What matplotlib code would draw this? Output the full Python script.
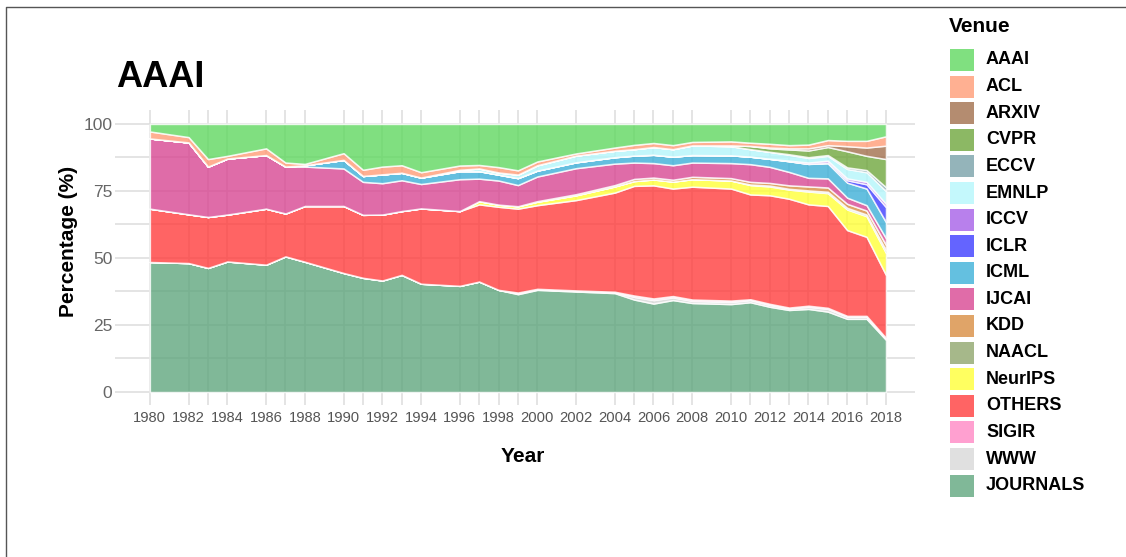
import matplotlib
matplotlib.use('Agg')
import matplotlib.pyplot as plt
from matplotlib.patches import Rectangle
from matplotlib.lines import Line2D
from matplotlib.colors import to_rgb

plt.rcParams['font.family'] = ['Liberation Sans', 'DejaVu Sans']

years = [1980, 1982, 1983, 1984, 1986, 1987, 1988, 1990, 1991, 1992, 1993, 1994, 1996, 1997, 1998, 1999,
         2000, 2002, 2004, 2005, 2006, 2007, 2008, 2010, 2011, 2012, 2013, 2014, 2015, 2016, 2017, 2018]

# percentage of citations per venue, one value per year above
journals = [48.5, 48.1, 46.3, 48.7, 47.5, 50.6, 48.6, 44.4, 42.6, 41.6, 43.7, 40.4, 39.6, 41.2, 38.1, 36.5,
            38.1, 37.5, 36.9, 34.5, 33.0, 34.3, 33.2, 32.8, 33.5, 31.8, 30.6, 31.0, 30.0, 27.3, 27.3, 19.5]
www = [0] * 15 + [0.3, 0.2, 0.2, 0.3, 1.0, 1.3, 1.0, 0.8, 0.8, 0.8, 0.7, 0.6, 0.8, 1.0, 0.8, 0.8, 0.5]
sigir = [0] * 15 + [0.3, 0.2, 0.2, 0.2, 0.5, 0.6, 0.5, 0.5, 0.5, 0.3, 0.4, 0.3, 0.4, 0.4, 0.3, 0.3, 0.2]
others = [19.9, 18.2, 19.0, 17.5, 20.9, 16.0, 20.8, 25.0, 23.5, 24.6, 23.8, 28.1, 27.9, 28.8, 31.0, 31.3,
          31.2, 33.7, 37.0, 40.9, 42.2, 40.1, 42.1, 41.8, 39.1, 40.5, 40.6, 37.8, 38.0, 32.0, 29.5, 23.5]
neurips = [0] * 13 + [1.2, 0.8, 0.9, 1.3, 1.8, 2.3, 1.8, 2.2, 2.6, 2.8, 3.0, 3.5, 3.3, 3.4, 4.8, 4.8, 7.7, 7.7, 8.2]
naacl = [0] * 24 + [0.2, 0.3, 0.3, 0.4, 0.5, 0.6, 0.6, 1.0]
kdd = [0] * 16 + [0.2, 0.4, 0.5, 0.8, 0.7, 0.7, 0.9, 0.9, 1.0, 1.0, 1.3, 1.5, 1.6, 1.5, 1.5, 2.0]
ijcai = [26.2, 26.8, 18.8, 20.9, 20.0, 17.5, 14.7, 14.0, 12.3, 11.7, 11.5, 9.1, 11.9, 8.4, 9.0, 7.9,
         9.2, 9.7, 8.0, 6.1, 5.4, 5.4, 5.3, 5.6, 6.6, 6.0, 5.0, 3.2, 3.4, 2.3, 2.0, 2.5]
icml = [0] * 6 + [0.5, 3.2, 2.2, 3.3, 2.8, 2.4, 3.0, 2.8, 2.2, 2.6, 2.2, 2.2, 2.4, 2.6, 3.1, 3.2, 2.8, 2.9,
                  2.8, 3.0, 4.0, 5.2, 5.6, 5.6, 6.2, 6.0]
iclr = [0] * 28 + [0.3, 0.9, 1.6, 5.6]
iccv = [0] * 26 + [0.2, 0.5, 0.7, 0.7, 0.9, 1.2]
emnlp = [0] * 12 + [0.5, 1.0, 0.8, 1.3, 2.0, 2.5, 2.4, 2.4, 2.9, 2.8, 3.6, 3.4, 2.8, 2.6, 2.2, 1.7, 1.8, 3.5, 3.6, 4.8]
eccv = [0] * 26 + [0.2, 0.3, 0.3, 0.6, 0.8, 1.4]
cvpr = [0] * 23 + [0.3, 1.2, 1.3, 1.8, 2.5, 3.0, 6.0, 5.3, 10.5]
arxiv = [0] * 25 + [0.3, 0.4, 0.8, 0.7, 1.9, 3.1, 5.0]
acl = [2.6, 2.0, 2.8, 1.0, 2.5, 1.5, 0.5, 2.5, 2.3, 2.9, 2.8, 2.0, 1.6, 1.3, 2.0, 1.6,
       1.4, 0.8, 1.2, 1.6, 1.5, 1.5, 1.3, 1.5, 1.2, 1.4, 1.2, 1.4, 1.9, 2.0, 2.5, 3.5]
aaai = [2.8, 4.9, 13.1, 11.9, 9.1, 14.4, 14.9, 10.9, 17.1, 15.9, 15.4, 18.0, 15.5, 15.3, 16.1, 17.3,
        14.0, 11.0, 8.8, 7.8, 7.1, 7.9, 6.7, 6.5, 7.0, 7.4, 7.9, 7.7, 6.0, 6.3, 6.3, 4.6]

# bottom to top
venues = ['JOURNALS', 'WWW', 'SIGIR', 'OTHERS', 'NeurIPS', 'NAACL', 'KDD', 'IJCAI', 'ICML', 'ICLR',
          'ICCV', 'EMNLP', 'ECCV', 'CVPR', 'ARXIV', 'ACL', 'AAAI']
series = [journals, www, sigir, others, neurips, naacl, kdd, ijcai, icml, iclr,
          iccv, emnlp, eccv, cvpr, arxiv, acl, aaai]
colors = {
    'AAAI': '#80e080', 'ACL': '#ffb092', 'ARXIV': '#b48c70', 'CVPR': '#8cb864', 'ECCV': '#94b4ba',
    'EMNLP': '#c4f8fc', 'ICCV': '#b880ec', 'ICLR': '#6464ff', 'ICML': '#64c0e0', 'IJCAI': '#e06ca8',
    'KDD': '#e0a468', 'NAACL': '#a6b88a', 'NeurIPS': '#ffff60', 'OTHERS': '#ff6464', 'SIGIR': '#ffa0d0',
    'WWW': '#e0e0e0', 'JOURNALS': '#80b898',
}
ALPHA = 0.8


def base_color(hex_color):
    # colour that gives hex_color when drawn with ALPHA over white
    return tuple(min(1.0, max(0.0, (c - (1 - ALPHA)) / ALPHA)) for c in to_rgb(hex_color))


W, H = 1126, 557
fig = plt.figure(figsize=(W / 100, H / 100), dpi=100)


def fx(px):
    return px / W


def fy(py):
    return 1 - py / H


ax = fig.add_axes([fx(115), fy(405), fx(915) - fx(115), fy(110) - fy(405)])
ax.stackplot(years, *series, colors=[base_color(colors[v]) for v in venues], alpha=ALPHA,
             edgecolor='white', linewidth=1.1, zorder=2)

ax.set_xlim(1978.2, 2019.5)
ax.set_ylim(-4.85, 105.2)
major_years = [y for y in years if y % 2 == 0]
minor_years = [y for y in years if y % 2 == 1]
ax.set_xticks(major_years)
ax.set_xticks(minor_years, minor=True)
ax.set_yticks([0, 25, 50, 75, 100])
ax.set_yticks([12.5, 37.5, 62.5, 87.5], minor=True)
ax.grid(True, which='both', color='#dddddd', linewidth=1.1, zorder=0)
ax.set_axisbelow(True)
ax.tick_params(which='both', length=0)
ax.tick_params(axis='x', labelsize=10.6, labelcolor='#555555', pad=4)
ax.tick_params(axis='y', labelsize=12.5, labelcolor='#666666', pad=2)
for s in ax.spines.values():
    s.set_visible(False)

fig.text(fx(116), fy(87), 'AAAI', fontsize=26, fontweight='bold', ha='left', va='baseline')
fig.text(fx(68), fy(241), 'Percentage (%)', fontsize=15, fontweight='bold', rotation=90,
         ha='center', va='center')
fig.text(fx(523), fy(456), 'Year', fontsize=15, fontweight='bold', ha='center', va='center')

# legend, top to bottom
fig.text(fx(949), fy(27), 'Venue', fontsize=15, fontweight='bold', ha='left', va='center')
for i, v in enumerate(venues[::-1]):
    cy = 60 + i * 26.6
    fig.add_artist(Rectangle((fx(950), fy(cy + 11)), fx(974) - fx(950), fy(cy - 11) - fy(cy + 11),
                             transform=fig.transFigure, facecolor=colors[v], edgecolor='none'))
    fig.text(fx(986), fy(cy), v, fontsize=13, fontweight='bold', ha='left', va='center')

# card border
fig.add_artist(Line2D([fx(6), fx(6), fx(W)], [0, fy(7), fy(7)], transform=fig.transFigure,
                      color='#555555', linewidth=1))

fig.savefig('out.png', dpi=100)
